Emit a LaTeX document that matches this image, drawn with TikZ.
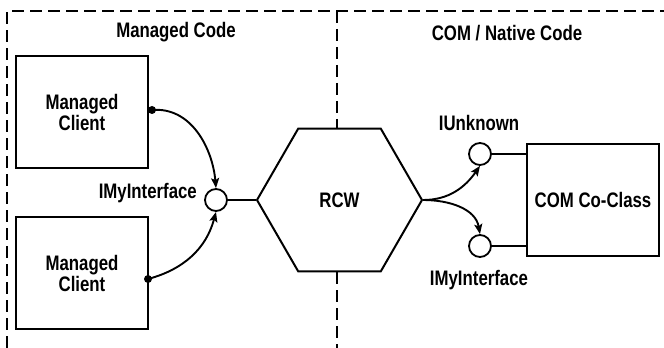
\documentclass[tikz,border=0pt]{standalone}
\usepackage{fontspec}
\setmainfont{Liberation Sans}[FakeStretch=0.8]
\usetikzlibrary{shapes.geometric, arrows.meta, positioning}

\tikzset{
  zone/.style={line width=1.8pt, dash pattern=on 12pt off 6pt},
  box/.style={draw, line width=2pt, minimum width=132pt, minimum height=112pt, align=center, inner sep=0pt},
  port/.style={draw, circle, line width=1.8pt, minimum size=22pt, inner sep=0pt},
  link/.style={line width=1.9pt},
  call/.style={line width=1.9pt, -{Stealth[length=10pt, width=8pt, inset=2pt]}},
  hub/.style={draw, regular polygon, regular polygon sides=6, line width=2pt, minimum size=165pt, inner sep=0pt},
}

\begin{document}
\begin{tikzpicture}[x=1pt, y=1pt, font=\fontsize{21}{21}\selectfont\bfseries]
    \useasboundingbox (0,0) rectangle (664,348);

    % Dashed zones
    \coordinate (zoneTL) at (7, 337);
    \coordinate (zoneTR) at (664, 337);
    \coordinate (zoneBL) at (7, 0);
    \coordinate (splitT) at (337, 337);
    \coordinate (splitB) at (337, 0);
    \draw[zone] (zoneBL) -- (zoneTL) -- (zoneTR);

    \node (lblmanaged) at (176, 316) {Managed Code};
    \node (lblnative)  at (507, 315) {COM / Native Code};

    % Managed side
    \node[box] (client1) at (82, 236)  {Managed\\Client};
    \node[box] (client2) at (82, 74.5) {Managed\\Client};
    \node[port] (mi) at (216, 148) {};
    \node[anchor=east, inner sep=0pt] (lblmi) at (197, 155) {IMyInterface};

    % Wrapper
    \node[hub] (rcw) at (339.5, 148) {RCW};
    \draw[zone] (splitT) -- (splitT |- rcw.north);
    \draw[zone] (splitB |- rcw.south) -- (splitB);

    % Native side
    \node[port] (unk) at (480, 194) {};
    \node[port] (mi2) at (480, 102) {};
    \node[box] (coclass) at (593, 148) {COM Co-Class};
    \node (lblunk) at (479, 225) {IUnknown};
    \node (lblmi2) at (479, 68)  {IMyInterface};

    % Calls
    \coordinate (dot1) at (152, 238);
    \coordinate (dot2) at (148, 69);
    \fill (dot1) circle (4pt);
    \fill (dot2) circle (4pt);
    \draw[call] (dot1) to[out=5, in=95] (mi.north);
    \draw[call] (dot2) to[out=15, in=-105] (mi.south);
    \draw[link] (mi) -- (rcw.west);
    \draw[call] (rcw.east) to[out=0, in=-125] (unk.south);
    \draw[call] (rcw.east) to[out=0, in=100] (mi2.north);
    \draw[link] (unk) -- (unk -| coclass.west);
    \draw[link] (mi2) -- (mi2 -| coclass.west);

\end{tikzpicture}
\end{document}
